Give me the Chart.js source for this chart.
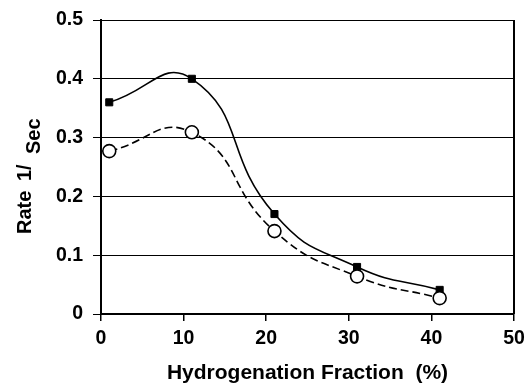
<!DOCTYPE html>
<html>
<head>
<meta charset="utf-8">
<script src="https://cdn.jsdelivr.net/npm/chart.js@4.4.1/dist/chart.umd.min.js"></script>
<style>
  html, body { margin: 0; padding: 0; background: #fff; }
  #wrap { width: 526px; height: 386px; position: relative; }
</style>
</head>
<body>
<div id="wrap"><canvas id="c" width="526" height="386"></canvas></div>
<script>
// ---- data ----
const hydrogenationFraction = [1, 11, 21, 31, 41];
const rateSolid  = [0.36, 0.40, 0.17, 0.08, 0.041];   // filled squares, solid line
const rateDashed = [0.277, 0.309, 0.141, 0.064, 0.027]; // open circles, dashed line
const xTicks = [0, 10, 20, 30, 40, 50];
const yTicks = [0, 0.1, 0.2, 0.3, 0.4, 0.5];
const xTitle = 'Hydrogenation Fraction  (%)';
const yTitleParts = ['Rate', '1/', 'Sec'];

const toPoints = (xs, ys) => xs.map((x, i) => ({ x: x, y: ys[i] }));

const FONT = "'Liberation Sans', Arial, sans-serif";

const frame = {
  id: 'frame',
  afterDraw(chart) {
    const { ctx, chartArea: a } = chart;
    ctx.save();
    ctx.strokeStyle = '#000';
    ctx.lineWidth = 2;
    ctx.beginPath();
    ctx.moveTo(a.right, a.top);
    ctx.lineTo(a.right, a.bottom);
    ctx.stroke();
    ctx.restore();

    // rotated y title with subscript "Sec"
    ctx.save();
    ctx.fillStyle = '#000';
    ctx.font = "bold 20px " + FONT;
    ctx.textBaseline = 'alphabetic';
    ctx.textAlign = 'left';
    ctx.translate(31, 234);
    ctx.rotate(-Math.PI / 2);
    ctx.fillText(yTitleParts[0], 0, 0);
    ctx.fillText(yTitleParts[1], 53, 0);
    ctx.fillText(yTitleParts[2], 80, 9);
    ctx.restore();
  }
};

new Chart(document.getElementById('c'), {
  type: 'scatter',
  data: {
    datasets: [
      {
        data: toPoints(hydrogenationFraction, rateSolid),
        showLine: true,
        tension: 0.5,
        borderColor: '#000',
        borderWidth: 1.6,
        pointStyle: 'rect',
        pointRadius: 5,
        pointBackgroundColor: '#000',
        pointBorderColor: '#000',
        pointBorderWidth: 1,
        order: 1
      },
      {
        data: toPoints(hydrogenationFraction, rateDashed),
        showLine: true,
        tension: 0.5,
        borderColor: '#000',
        borderWidth: 1.6,
        borderDash: [8, 4],
        pointStyle: 'circle',
        pointRadius: 6.5,
        pointBackgroundColor: '#fff',
        pointBorderColor: '#000',
        pointBorderWidth: 1.6,
        order: 0
      }
    ]
  },
  options: {
    responsive: false,
    animation: false,
    devicePixelRatio: 1,
    layout: { padding: { top: 20, right: 12, left: 0, bottom: 0 } },
    plugins: { legend: { display: false }, tooltip: { enabled: false } },
    scales: {
      x: {
        type: 'linear',
        min: 0, max: 50,
        afterBuildTicks: s => { s.ticks = xTicks.map(v => ({ value: v })); },
        afterFit: s => { s.height = 72; s.paddingLeft = 0; s.paddingRight = 0; },
        ticks: {
          color: '#000',
          font: { family: FONT, size: 19.5, weight: 'bold' },
          padding: 6,
          maxRotation: 0
        },
        grid: { drawOnChartArea: false, drawTicks: true, tickLength: 7, color: '#000', lineWidth: 1.5 },
        border: { color: '#000', width: 2 },
        title: {
          display: true,
          text: xTitle,
          color: '#000',
          font: { family: FONT, size: 21, weight: 'bold' },
          padding: { top: 0, bottom: 0 }
        }
      },
      y: {
        type: 'linear',
        min: 0, max: 0.5,
        afterBuildTicks: s => { s.ticks = yTicks.map(v => ({ value: v })); },
        afterFit: s => { s.width = 101; s.paddingTop = 0; s.paddingBottom = 0; },
        ticks: {
          color: '#000',
          font: { family: FONT, size: 19.5, weight: 'bold' },
          padding: 10,
          callback: v => String(Math.round(v * 10) / 10)
        },
        grid: { color: '#000', lineWidth: 1, tickLength: 8 },
        border: { color: '#000', width: 2 }
      }
    }
  },
  plugins: [frame]
});
</script>
</body>
</html>
